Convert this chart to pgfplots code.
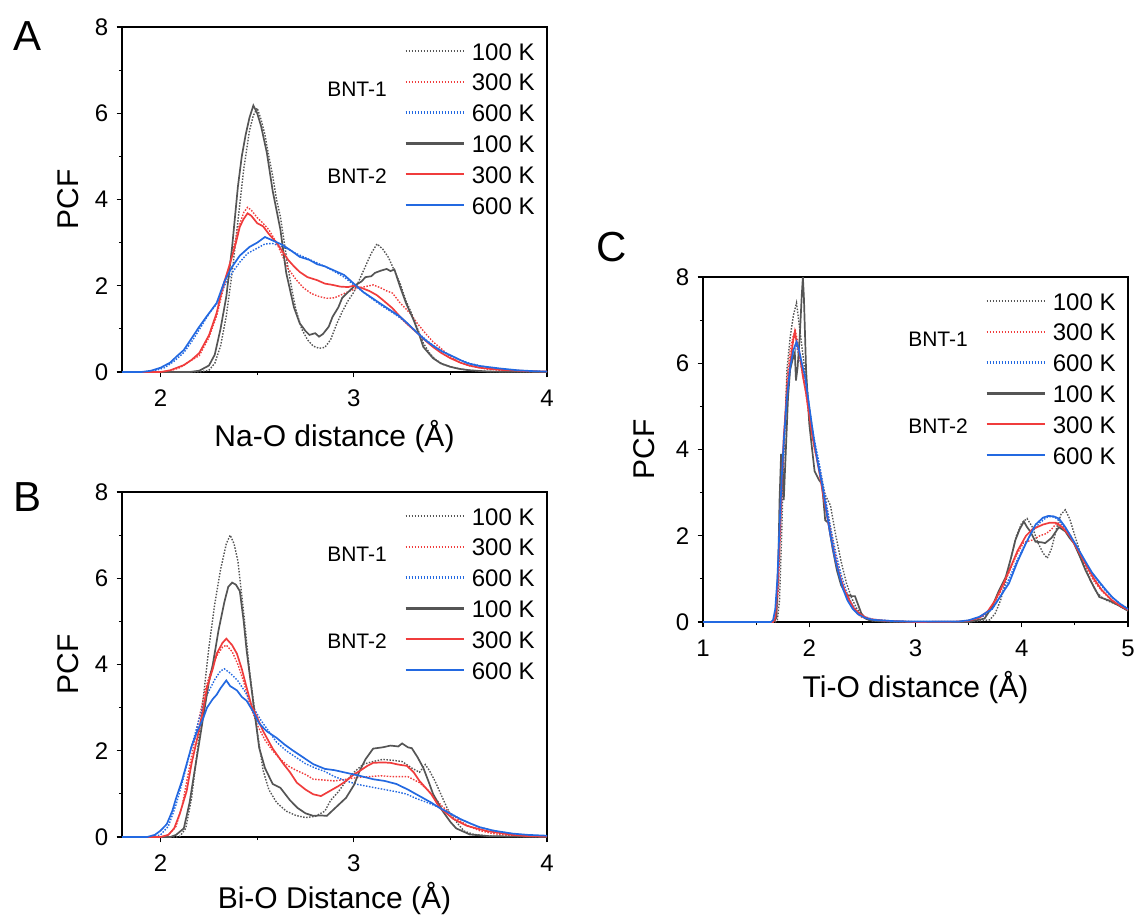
\documentclass[border=0pt]{standalone}
\usepackage{pgfplots}
\usepackage{pgfplotstable}
\pgfplotsset{compat=1.18}
\usepackage{fontspec}
\setmainfont{Liberation Sans}
\definecolor{cgray}{RGB}{85,85,85}
\definecolor{cred}{RGB}{240,60,60}
\definecolor{cblue}{RGB}{35,105,225}

\pgfplotsset{
  pcf/.style={
    scale only axis, width=212.5pt, height=172.5pt,
    ymin=0, ymax=8, ytick={0,2,4,6,8}, minor y tick num=1, minor x tick num=1,
    tick align=outside, xtick pos=bottom, ytick pos=left,
    major tick length=2.7pt, minor tick length=1.6pt,
    every tick/.style={black, line width=0.6pt},
    axis line style={line width=0.7pt},
    /pgf/number format/assume math mode=true,
    ticklabel style={font=\fontsize{12}{12}\selectfont},
    xticklabel style={anchor=north, inner sep=0pt, yshift=-6pt},
    yticklabel style={anchor=east, inner sep=0pt, xshift=-4pt},
    label style={font=\fontsize{15}{15}\selectfont},
    ylabel={PCF},
    ylabel style={at={(axis description cs:-0.127,0.5)}, anchor=center},
    legend style={draw=none, fill=none, at={(1,1)}, anchor=north east, xshift=-6pt, yshift=-7.7pt,
      font=\fontsize{12}{12}\selectfont, row sep=6.8pt, column sep=3.5pt, inner sep=0pt,
      nodes={inner sep=0pt, text height=8.6pt, text depth=0pt}},
    legend cell align=left,
    legend image code/.code={\draw[##1,line width=1.25\pgflinewidth] (0pt,0.25pt) -- (29pt,0.25pt);},
  },
  d1/.style={cgray, line width=0.7pt, dash pattern=on 0.75pt off 0.75pt},
  d3/.style={cred, line width=0.7pt, dash pattern=on 0.75pt off 0.75pt},
  d6/.style={cblue, line width=0.7pt, dash pattern=on 0.75pt off 0.75pt},
  s1/.style={cgray, line width=0.85pt},
  s3/.style={cred, line width=0.85pt},
  s6/.style={cblue, line width=0.85pt},
}
\newcommand{\bntlabels}{%
  \node[font=\fontsize{10.5}{10.5}\selectfont] at (rel axis cs:0.553,0.82) {BNT-1};
  \node[font=\fontsize{10.5}{10.5}\selectfont] at (rel axis cs:0.553,0.568) {BNT-2};
  \legend{100 K,300 K,600 K,100 K,300 K,600 K}}

% ---------------- Panel A: Na-O ----------------
\pgfplotstableread{
x y
1.80 0
2.20 0
2.25 0.04
2.28 0.2
2.31 0.6
2.34 1.3
2.37 2.3
2.40 3.5
2.43 4.7
2.46 5.6
2.48 5.95
2.50 6.12
2.52 5.85
2.54 5.5
2.56 5.0
2.58 4.55
2.60 4.0
2.62 3.6
2.64 3.0
2.66 2.4
2.68 1.9
2.70 1.45
2.73 1.0
2.76 0.75
2.79 0.6
2.82 0.55
2.85 0.57
2.88 0.75
2.91 1.1
2.94 1.4
2.97 1.65
3.00 1.85
3.03 2.15
3.06 2.45
3.09 2.75
3.12 2.97
3.15 2.85
3.18 2.65
3.21 2.35
3.24 2.05
3.27 1.65
3.30 1.35
3.33 1.0
3.36 0.67
3.39 0.45
3.42 0.3
3.46 0.18
3.50 0.12
3.55 0.07
3.60 0.04
3.70 0.01
4.00 0
}\Aga
\pgfplotstableread{
x y
1.80 0
2.15 0
2.20 0.03
2.25 0.15
2.28 0.4
2.31 1.0
2.34 1.75
2.37 2.9
2.40 4.3
2.42 5.0
2.44 5.5
2.46 5.9
2.48 6.18
2.50 6.0
2.52 5.7
2.55 5.08
2.58 4.2
2.62 3.3
2.65 2.3
2.69 1.5
2.72 1.13
2.75 0.95
2.77 0.86
2.80 0.9
2.82 0.82
2.84 0.88
2.87 1.05
2.89 1.28
2.92 1.5
2.94 1.72
2.97 1.85
3.01 2.02
3.04 2.1
3.06 2.2
3.09 2.22
3.11 2.3
3.14 2.35
3.17 2.39
3.19 2.34
3.21 2.38
3.24 1.97
3.27 1.6
3.31 1.2
3.34 0.85
3.36 0.58
3.41 0.32
3.45 0.2
3.50 0.12
3.55 0.07
3.60 0.04
3.70 0.01
4.00 0
}\Agb
\pgfplotstableread{
x y
1.80 0
2.00 0
2.05 0.03
2.10 0.1
2.15 0.25
2.20 0.38
2.25 0.8
2.29 1.3
2.32 1.85
2.36 2.55
2.40 3.3
2.43 3.7
2.45 3.82
2.47 3.75
2.50 3.58
2.53 3.45
2.56 3.3
2.60 3.0
2.63 2.7
2.66 2.4
2.70 2.15
2.74 1.95
2.78 1.82
2.82 1.75
2.86 1.71
2.90 1.72
2.94 1.8
2.98 1.88
3.02 1.95
3.06 1.98
3.10 2.02
3.14 1.95
3.17 1.88
3.20 1.83
3.24 1.6
3.29 1.37
3.33 1.12
3.37 0.9
3.41 0.7
3.45 0.55
3.50 0.35
3.55 0.22
3.60 0.14
3.70 0.06
3.80 0.03
4.00 0
}\Ara
\pgfplotstableread{
x y
1.80 0
2.00 0
2.05 0.04
2.12 0.16
2.16 0.28
2.20 0.44
2.25 0.85
2.29 1.37
2.32 1.95
2.36 2.53
2.39 3.0
2.41 3.37
2.43 3.55
2.45 3.68
2.47 3.62
2.50 3.45
2.53 3.38
2.56 3.2
2.60 3.0
2.63 2.8
2.66 2.6
2.69 2.45
2.72 2.32
2.76 2.2
2.81 2.13
2.85 2.05
2.89 2.02
2.93 1.98
2.97 1.97
3.00 2.0
3.04 1.95
3.08 1.88
3.12 1.78
3.15 1.67
3.20 1.48
3.24 1.28
3.28 1.1
3.33 0.9
3.37 0.73
3.41 0.58
3.45 0.45
3.50 0.32
3.55 0.22
3.59 0.16
3.65 0.1
3.76 0.05
3.90 0.02
4.00 0.01
}\Arb
\pgfplotstableread{
x y
1.80 0
1.92 0
1.97 0.03
2.02 0.1
2.07 0.25
2.12 0.45
2.16 0.7
2.20 0.98
2.25 1.35
2.29 1.58
2.33 2.0
2.37 2.3
2.41 2.55
2.45 2.75
2.50 2.87
2.54 2.97
2.58 2.98
2.62 2.92
2.66 2.85
2.70 2.75
2.75 2.65
2.80 2.55
2.85 2.45
2.90 2.33
2.95 2.2
3.00 2.02
3.05 1.85
3.10 1.68
3.15 1.52
3.20 1.38
3.25 1.22
3.30 1.02
3.35 0.84
3.40 0.65
3.45 0.5
3.50 0.38
3.55 0.28
3.60 0.2
3.70 0.1
3.80 0.05
3.90 0.02
4.00 0.01
}\Aba
\pgfplotstableread{
x y
1.80 0
1.90 0
1.95 0.03
2.00 0.1
2.05 0.22
2.08 0.35
2.12 0.51
2.16 0.78
2.20 1.05
2.24 1.3
2.29 1.6
2.33 2.1
2.37 2.44
2.41 2.7
2.46 2.9
2.50 3.0
2.54 3.13
2.58 3.05
2.63 2.95
2.68 2.8
2.72 2.67
2.77 2.6
2.81 2.5
2.85 2.45
2.89 2.37
2.95 2.25
3.00 2.05
3.05 1.85
3.10 1.7
3.15 1.55
3.20 1.4
3.24 1.28
3.28 1.12
3.33 0.9
3.37 0.74
3.42 0.58
3.46 0.47
3.50 0.39
3.55 0.28
3.59 0.2
3.65 0.14
3.76 0.08
3.85 0.04
3.93 0.02
4.00 0.01
}\Abb

% ---------------- Panel B: Bi-O ----------------
\pgfplotstableread{
x y
1.80 0
2.08 0
2.10 0.02
2.13 0.2
2.16 0.9
2.19 2.0
2.22 3.2
2.25 4.4
2.28 5.4
2.31 6.2
2.34 6.8
2.36 7.0
2.38 6.8
2.40 6.4
2.43 5.2
2.46 3.86
2.50 2.46
2.53 1.55
2.56 1.1
2.60 0.8
2.65 0.6
2.70 0.5
2.75 0.45
2.80 0.48
2.85 0.6
2.88 0.85
2.92 1.05
2.96 1.3
3.00 1.5
3.05 1.69
3.10 1.75
3.15 1.8
3.20 1.78
3.25 1.75
3.30 1.6
3.34 1.5
3.37 1.68
3.39 1.55
3.42 1.3
3.45 1.0
3.48 0.7
3.50 0.53
3.54 0.3
3.57 0.14
3.62 0.06
3.70 0.02
4.00 0
}\Bga
\pgfplotstableread{
x y
1.80 0
2.05 0
2.08 0.05
2.12 0.2
2.15 0.8
2.17 1.37
2.20 2.2
2.22 2.77
2.25 3.6
2.27 4.0
2.30 4.8
2.33 5.45
2.35 5.8
2.37 5.9
2.39 5.85
2.41 5.7
2.43 5.0
2.445 4.33
2.48 3.1
2.51 2.07
2.54 1.6
2.58 1.23
2.62 1.14
2.67 0.85
2.71 0.67
2.75 0.55
2.79 0.49
2.83 0.5
2.86 0.49
2.91 0.7
2.96 0.91
3.00 1.2
3.03 1.53
3.06 1.8
3.10 2.05
3.15 2.08
3.19 2.12
3.23 2.1
3.25 2.17
3.28 2.08
3.30 2.06
3.33 1.85
3.36 1.6
3.39 1.25
3.41 1.0
3.46 0.6
3.50 0.35
3.53 0.2
3.60 0.06
3.70 0.02
4.00 0
}\Bgb
\pgfplotstableread{
x y
1.80 0
2.00 0
2.04 0.05
2.08 0.25
2.11 0.7
2.14 1.4
2.17 2.1
2.20 2.77
2.23 3.4
2.26 3.85
2.29 4.2
2.32 4.4
2.34 4.45
2.37 4.3
2.40 4.0
2.43 3.6
2.46 3.1
2.50 2.6
2.54 2.25
2.58 2.0
2.62 1.8
2.66 1.65
2.70 1.55
2.75 1.45
2.79 1.34
2.85 1.32
2.90 1.3
2.96 1.34
3.02 1.38
3.08 1.4
3.14 1.42
3.20 1.4
3.28 1.4
3.34 1.26
3.38 1.1
3.42 0.9
3.46 0.7
3.50 0.55
3.55 0.37
3.60 0.24
3.65 0.15
3.72 0.08
3.80 0.04
3.90 0.02
4.00 0.01
}\Bra
\pgfplotstableread{
x y
1.80 0
2.00 0
2.04 0.05
2.07 0.2
2.10 0.55
2.135 1.07
2.16 1.7
2.19 2.3
2.22 2.95
2.24 3.47
2.27 3.9
2.29 4.25
2.32 4.5
2.34 4.6
2.37 4.45
2.395 4.25
2.42 3.9
2.445 3.47
2.47 3.05
2.50 2.77
2.53 2.46
2.58 2.05
2.635 1.7
2.67 1.5
2.705 1.26
2.75 1.1
2.79 0.99
2.83 0.95
2.877 1.07
2.92 1.18
2.96 1.3
3.00 1.45
3.03 1.53
3.07 1.65
3.10 1.72
3.15 1.73
3.19 1.72
3.23 1.68
3.275 1.65
3.31 1.5
3.34 1.3
3.37 1.15
3.40 1.0
3.446 0.67
3.48 0.55
3.515 0.42
3.585 0.26
3.687 0.14
3.82 0.05
3.90 0.02
4.00 0.01
}\Brb
\pgfplotstableread{
x y
1.80 0
1.95 0
2.00 0.05
2.04 0.25
2.08 0.75
2.12 1.4
2.16 2.1
2.20 2.75
2.24 3.3
2.28 3.65
2.31 3.85
2.33 3.9
2.36 3.8
2.40 3.62
2.44 3.35
2.48 3.0
2.52 2.7
2.56 2.45
2.60 2.2
2.65 2.0
2.70 1.85
2.75 1.7
2.80 1.6
2.85 1.52
2.90 1.4
2.96 1.3
3.02 1.22
3.10 1.15
3.16 1.1
3.22 1.05
3.27 1.0
3.32 0.9
3.38 0.8
3.45 0.67
3.50 0.55
3.55 0.42
3.60 0.32
3.65 0.23
3.75 0.12
3.85 0.06
3.95 0.03
4.00 0.02
}\Bba
\pgfplotstableread{
x y
1.80 0
1.93 0
1.97 0.05
2.00 0.15
2.032 0.3
2.06 0.6
2.08 0.9
2.11 1.3
2.135 1.7
2.16 2.1
2.19 2.46
2.22 2.75
2.24 3.0
2.27 3.2
2.29 3.3
2.31 3.45
2.34 3.63
2.36 3.5
2.395 3.4
2.42 3.25
2.445 3.16
2.48 2.9
2.51 2.63
2.55 2.45
2.60 2.3
2.64 2.15
2.68 2.02
2.72 1.9
2.79 1.69
2.85 1.58
2.90 1.55
2.96 1.49
3.03 1.42
3.10 1.34
3.16 1.3
3.22 1.23
3.28 1.1
3.34 0.95
3.40 0.8
3.446 0.67
3.50 0.54
3.55 0.42
3.60 0.32
3.65 0.23
3.72 0.15
3.82 0.08
3.90 0.05
4.00 0.03
}\Bbb

% ---------------- Panel C: Ti-O ----------------
\pgfplotstableread{
x y
1.00 0
1.68 0
1.70 0.05
1.72 0.5
1.74 2.0
1.76 3.8
1.79 5.85
1.82 6.6
1.85 7.1
1.88 7.4
1.90 7.0
1.92 6.6
1.95 6.0
2.00 5.0
2.05 4.1
2.10 3.5
2.15 2.95
2.20 2.7
2.25 2.0
2.30 1.4
2.35 0.9
2.40 0.55
2.45 0.3
2.50 0.15
2.55 0.06
2.60 0.02
2.70 0.01
3.00 0
3.50 0
3.70 0.05
3.75 0.2
3.80 0.5
3.85 0.95
3.90 1.5
3.95 2.0
4.00 2.3
4.05 2.4
4.10 2.2
4.15 1.85
4.20 1.6
4.24 1.48
4.28 1.7
4.33 2.2
4.37 2.5
4.41 2.6
4.45 2.4
4.50 2.0
4.55 1.6
4.60 1.25
4.65 0.95
4.70 0.7
4.75 0.58
4.80 0.5
4.85 0.45
4.90 0.4
4.95 0.33
5.00 0.26
}\Cga
\pgfplotstableread{
x y
1.00 0
1.66 0
1.69 0.1
1.71 1.5
1.72 2.8
1.735 3.9
1.75 3.5
1.76 2.83
1.78 4.0
1.80 5.2
1.82 5.85
1.845 6.1
1.864 6.24
1.875 5.6
1.89 5.9
1.91 6.6
1.93 7.6
1.94 8.0
1.95 7.5
1.97 5.85
2.00 4.6
2.02 4.15
2.05 3.5
2.09 3.3
2.12 3.2
2.15 2.36
2.18 2.3
2.22 1.7
2.26 1.2
2.30 0.85
2.35 0.63
2.40 0.6
2.43 0.6
2.46 0.4
2.49 0.2
2.53 0.08
2.57 0.04
2.70 0.01
3.00 0
3.50 0
3.65 0.08
3.72 0.35
3.78 0.7
3.85 1.05
3.90 1.5
3.94 1.9
3.98 2.15
4.02 2.33
4.05 2.2
4.08 2.1
4.13 1.86
4.18 1.85
4.22 1.83
4.28 1.95
4.35 2.2
4.41 2.1
4.45 1.95
4.49 1.83
4.55 1.5
4.60 1.2
4.66 0.9
4.73 0.58
4.82 0.5
4.90 0.4
5.00 0.26
}\Cgb
\pgfplotstableread{
x y
1.00 0
1.67 0
1.69 0.1
1.71 0.8
1.73 2.2
1.76 4.1
1.79 5.6
1.82 6.3
1.85 6.65
1.87 6.75
1.89 6.5
1.92 6.1
1.96 5.5
2.00 4.7
2.05 4.0
2.10 3.5
2.15 2.85
2.20 2.15
2.25 1.5
2.30 0.95
2.35 0.6
2.40 0.35
2.45 0.2
2.50 0.1
2.60 0.04
2.80 0.01
3.00 0
3.40 0
3.55 0.05
3.65 0.15
3.72 0.35
3.80 0.7
3.88 1.15
3.95 1.55
4.02 1.85
4.10 1.9
4.17 2.0
4.23 2.05
4.28 2.15
4.33 2.3
4.38 2.25
4.45 2.05
4.52 1.7
4.60 1.3
4.68 0.95
4.76 0.7
4.85 0.5
4.92 0.38
5.00 0.27
}\Cra
\pgfplotstableread{
x y
1.00 0
1.66 0
1.68 0.1
1.70 0.8
1.72 2.0
1.74 3.2
1.76 4.3
1.79 5.3
1.82 6.0
1.85 6.55
1.864 6.73
1.88 6.5
1.91 6.2
1.94 5.7
1.97 5.3
2.00 4.8
2.03 4.3
2.07 3.8
2.10 3.4
2.13 2.95
2.16 2.55
2.19 2.15
2.22 1.75
2.25 1.4
2.29 1.05
2.33 0.75
2.38 0.5
2.42 0.32
2.47 0.2
2.52 0.12
2.57 0.07
2.70 0.03
2.90 0.01
3.00 0
3.40 0.01
3.50 0.03
3.60 0.1
3.68 0.25
3.75 0.5
3.82 0.85
3.90 1.3
3.96 1.65
4.04 2.0
4.10 2.15
4.20 2.26
4.26 2.3
4.32 2.3
4.38 2.2
4.45 2.0
4.52 1.7
4.60 1.35
4.68 1.0
4.75 0.75
4.85 0.5
4.93 0.37
5.00 0.28
}\Crb
\pgfplotstableread{
x y
1.00 0
1.66 0
1.68 0.1
1.70 0.6
1.72 1.8
1.75 3.5
1.78 4.9
1.82 5.9
1.85 6.3
1.88 6.4
1.91 6.1
1.95 5.6
2.00 4.9
2.05 4.2
2.10 3.6
2.15 2.9
2.20 2.2
2.25 1.6
2.30 1.1
2.35 0.7
2.40 0.42
2.45 0.25
2.50 0.14
2.60 0.06
2.80 0.02
3.00 0.01
3.40 0.01
3.55 0.05
3.65 0.15
3.72 0.3
3.80 0.6
3.88 1.0
3.95 1.4
4.02 1.75
4.10 2.1
4.17 2.3
4.23 2.42
4.28 2.45
4.33 2.4
4.40 2.2
4.47 1.95
4.55 1.6
4.62 1.3
4.70 1.0
4.78 0.75
4.86 0.55
4.93 0.42
5.00 0.3
}\Cba
\pgfplotstableread{
x y
1.00 0
1.64 0
1.66 0.05
1.68 0.3
1.70 1.0
1.72 2.2
1.74 3.3
1.76 4.2
1.79 5.2
1.82 5.9
1.85 6.3
1.88 6.5
1.90 6.35
1.93 6.0
1.96 5.7
2.00 5.0
2.04 4.3
2.08 3.7
2.12 3.2
2.16 2.6
2.20 2.0
2.24 1.5
2.28 1.1
2.32 0.75
2.36 0.5
2.41 0.3
2.46 0.18
2.52 0.1
2.60 0.05
2.80 0.02
3.00 0.01
3.40 0.01
3.50 0.04
3.60 0.12
3.72 0.3
3.80 0.6
3.88 0.9
3.96 1.4
4.04 1.83
4.13 2.26
4.20 2.42
4.25 2.46
4.30 2.45
4.35 2.4
4.41 2.2
4.47 1.95
4.53 1.7
4.60 1.4
4.66 1.15
4.73 0.93
4.80 0.72
4.85 0.58
4.92 0.43
5.00 0.3
}\Cbb

\begin{document}
\begin{tikzpicture}
\path[use as bounding box] (0pt,0pt) rectangle (569.5pt,-458.5pt);

% Panel A
\begin{axis}[pcf, at={(61pt,-13.5pt)}, anchor=north west,
  xmin=1.8, xmax=4, xtick={2,3,4},
  xlabel={Na-O distance (Å)},
  xlabel style={at={(axis description cs:0.5,-0.188)}, anchor=center}]
\addplot[d1] table {\Aga};
\addplot[d3] table {\Ara};
\addplot[d6] table {\Aba};
\addplot[s1] table {\Agb};
\addplot[s3] table {\Arb};
\addplot[s6] table {\Abb};
\bntlabels
\end{axis}

% Panel B
\begin{axis}[pcf, at={(61pt,-246pt)}, anchor=north west,
  xmin=1.8, xmax=4, xtick={2,3,4},
  xlabel={Bi-O Distance (Å)},
  xlabel style={at={(axis description cs:0.5,-0.177)}, anchor=center}]
\addplot[d1] table {\Bga};
\addplot[d3] table {\Bra};
\addplot[d6] table {\Bba};
\addplot[s1] table {\Bgb};
\addplot[s3] table {\Brb};
\addplot[s6] table {\Bbb};
\bntlabels
\end{axis}

% Panel C
\begin{axis}[pcf, at={(351.5pt,-138.5pt)}, anchor=north west,
  xmin=1, xmax=5, xtick={1,2,3,4,5},
  xlabel={Ti-O distance (Å)},
  xlabel style={at={(axis description cs:0.5,-0.191)}, anchor=center},
  ylabel style={at={(axis description cs:-0.1385,0.5)}, anchor=center}]
\addplot[d1] table {\Cga};
\addplot[d3] table {\Cra};
\addplot[d6] table {\Cba};
\addplot[s1] table {\Cgb};
\addplot[s3] table {\Crb};
\addplot[s6] table {\Cbb};
\bntlabels
\end{axis}

\node[font=\fontsize{21}{21}\selectfont] at (14pt,-18pt) {A};
\node[font=\fontsize{21}{21}\selectfont] at (14pt,-248.5pt) {B};
\node[font=\fontsize{21}{21}\selectfont] at (306pt,-123.5pt) {C};
\end{tikzpicture}
\end{document}
